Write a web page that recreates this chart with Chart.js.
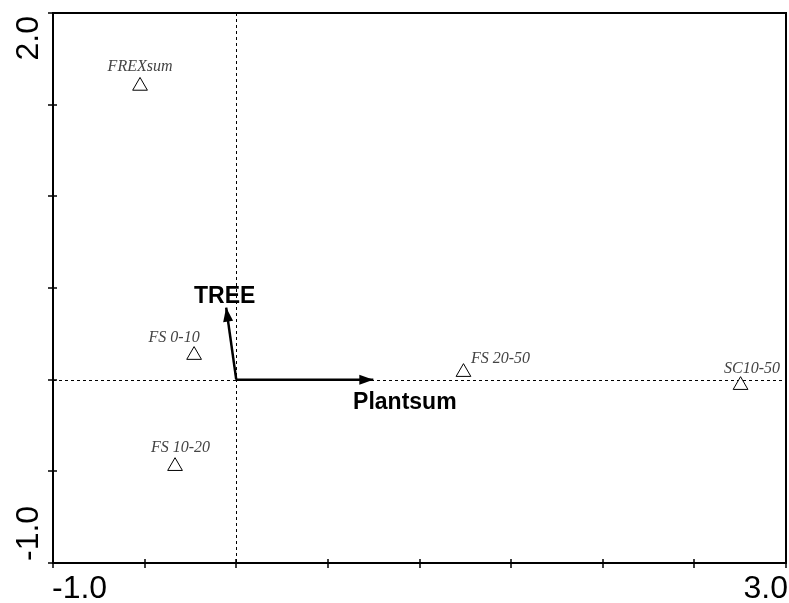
<!DOCTYPE html>
<html>
<head>
<meta charset="utf-8">
<script src="https://cdn.jsdelivr.net/npm/chart.js@4.4.0/dist/chart.umd.min.js"></script>
<style>
  html, body { margin: 0; padding: 0; background: #fff; overflow: hidden; }
  #wrap { width: 789px; height: 603px; position: relative; }
</style>
</head>
<body>
<div id="wrap"><canvas id="grafico" width="789" height="603"></canvas></div>
<script>
// amostras (triangulos)
const sampleNames = ['FREXsum', 'FS 0-10', 'FS 10-20', 'FS 20-50', 'SC10-50'];
const sampleX = [-0.525, -0.23, -0.334, 1.240, 2.752];
const sampleY = [1.602, 0.134, -0.472, 0.041, -0.030];

// variaveis (setas)
const vectorNames = ['TREE', 'Plantsum'];
const vectorX = [-0.055, 0.748];
const vectorY = [0.393, 0.0];

// eixos
const xMin = -1.0, xMax = 3.0;
const yMin = -1.0, yMax = 2.0;
const tickValues = [-1.0, -0.5, 0.0, 0.5, 1.0, 1.5, 2.0, 2.5, 3.0];
const xTickLabels = ['-1.0', '3.0'];
const yTickLabels = ['-1.0', '2.0'];

// deslocamento dos rotulos em px (dx, dy ate a linha de base)
const labelOffsets = [[0, -14.5], [-20, -13.5], [5.5, -14.5], [37, -9.5], [11.5, -12.5]];
const vectorLabelOffsets = [[-1.5, -5], [31.5, 29]];

const biplotPlugin = {
    id: 'biplot',
    beforeDatasetsDraw(chart) {
        const ctx = chart.ctx;
        const xs = chart.scales.x, ys = chart.scales.y;
        const a = chart.chartArea;
        const x0 = Math.round(xs.getPixelForValue(0)) + 0.5;
        const y0 = Math.round(ys.getPixelForValue(0)) + 0.5;
        ctx.save();
        ctx.strokeStyle = '#000';
        ctx.lineWidth = 1;
        ctx.setLineDash([3, 3]);
        ctx.beginPath();
        ctx.moveTo(a.left, y0); ctx.lineTo(a.right, y0);
        ctx.moveTo(x0, a.top); ctx.lineTo(x0, a.bottom);
        ctx.stroke();
        ctx.restore();
    },
    afterDatasetsDraw(chart) {
        const ctx = chart.ctx;
        const xs = chart.scales.x, ys = chart.scales.y;
        const a = chart.chartArea;
        ctx.save();

        // pontas das setas
        const ox = xs.getPixelForValue(0), oy = ys.getPixelForValue(0);
        vectorNames.forEach((name, i) => {
            const tx = xs.getPixelForValue(vectorX[i]);
            const ty = ys.getPixelForValue(vectorY[i]);
            const ang = Math.atan2(ty - oy, tx - ox);
            const len = 14, half = 5;
            ctx.fillStyle = '#000';
            ctx.beginPath();
            ctx.moveTo(tx, ty);
            ctx.lineTo(tx - len * Math.cos(ang) + half * Math.sin(ang), ty - len * Math.sin(ang) - half * Math.cos(ang));
            ctx.lineTo(tx - len * Math.cos(ang) - half * Math.sin(ang), ty - len * Math.sin(ang) + half * Math.cos(ang));
            ctx.closePath();
            ctx.fill();
            ctx.font = 'bold 23px "Liberation Sans", Arial, sans-serif';
            ctx.textAlign = 'center';
            ctx.textBaseline = 'alphabetic';
            ctx.fillText(name, tx + vectorLabelOffsets[i][0], ty + vectorLabelOffsets[i][1]);
        });

        // rotulos das amostras
        ctx.font = 'italic 16px "Liberation Serif", "Times New Roman", serif';
        ctx.fillStyle = '#444';
        ctx.textAlign = 'center';
        ctx.textBaseline = 'alphabetic';
        sampleNames.forEach((name, i) => {
            const px = xs.getPixelForValue(sampleX[i]);
            const py = ys.getPixelForValue(sampleY[i]);
            ctx.fillText(name, px + labelOffsets[i][0], py + labelOffsets[i][1]);
        });

        // moldura
        ctx.strokeStyle = '#000';
        ctx.lineWidth = 2;
        ctx.strokeRect(a.left, a.top, a.right - a.left, a.bottom - a.top);

        // marcas dos eixos
        ctx.lineWidth = 1.5;
        ctx.beginPath();
        tickValues.forEach(v => {
            if (v >= xMin && v <= xMax) {
                const px = Math.round(xs.getPixelForValue(v));
                ctx.moveTo(px, a.bottom - 4); ctx.lineTo(px, a.bottom + 5);
            }
            if (v >= yMin && v <= yMax) {
                const py = Math.round(ys.getPixelForValue(v));
                ctx.moveTo(a.left - 5, py); ctx.lineTo(a.left + 4, py);
            }
        });
        ctx.stroke();

        // rotulos dos eixos
        ctx.fillStyle = '#000';
        ctx.font = '32px "Liberation Sans", Arial, sans-serif';
        ctx.textBaseline = 'alphabetic';
        ctx.textAlign = 'left';
        ctx.fillText(xTickLabels[0], xs.getPixelForValue(xMin) - 1, a.bottom + 35);
        ctx.textAlign = 'right';
        ctx.fillText(xTickLabels[1], xs.getPixelForValue(xMax) + 2, a.bottom + 35);

        ctx.save();
        ctx.translate(38, ys.getPixelForValue(yMin) - 2);
        ctx.rotate(-Math.PI / 2);
        ctx.textAlign = 'left';
        ctx.fillText(yTickLabels[0], 0, 0);
        ctx.restore();
        ctx.save();
        ctx.translate(38, ys.getPixelForValue(yMax) + 3);
        ctx.rotate(-Math.PI / 2);
        ctx.textAlign = 'right';
        ctx.fillText(yTickLabels[1], 0, 0);
        ctx.restore();

        ctx.restore();
    }
};

document.addEventListener('DOMContentLoaded', function() {
    const ctx = document.getElementById('grafico').getContext('2d');

    const datasets = [{
        label: 'amostras',
        data: sampleX.map((x, i) => ({ x: x, y: sampleY[i] })),
        pointStyle: 'triangle',
        radius: 8.5,
        borderColor: '#000',
        backgroundColor: '#fff',
        borderWidth: 1,
        showLine: false
    }];
    vectorNames.forEach((name, i) => {
        datasets.push({
            label: name,
            data: [{ x: 0, y: 0 }, { x: vectorX[i], y: vectorY[i] }],
            borderColor: '#000',
            borderWidth: 2.5,
            pointRadius: 0,
            showLine: true,
            fill: false
        });
    });

    new Chart(ctx, {
        type: 'scatter',
        data: { datasets: datasets },
        options: {
            responsive: false,
            animation: false,
            events: [],
            layout: { autoPadding: false, padding: { left: 53, top: 13, right: 3, bottom: 40 } },
            plugins: { legend: { display: false }, tooltip: { enabled: false } },
            scales: {
                x: { type: 'linear', min: xMin, max: xMax, display: false },
                y: { type: 'linear', min: yMin, max: yMax, display: false }
            }
        },
        plugins: [biplotPlugin]
    });
});
</script>
</body>
</html>
